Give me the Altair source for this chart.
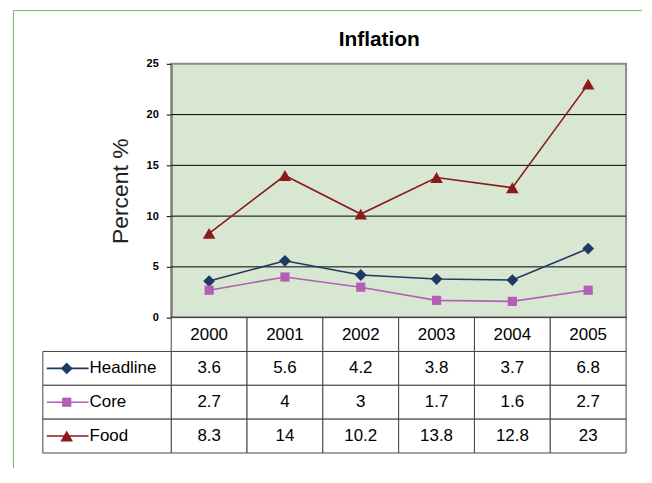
import altair as alt
import pandas as pd

years = ["2000", "2001", "2002", "2003", "2004", "2005"]
series = ["Headline", "Core", "Food"]
headline = [3.6, 5.6, 4.2, 3.8, 3.7, 6.8]
core = [2.7, 4, 3, 1.7, 1.6, 2.7]
food = [8.3, 14, 10.2, 13.8, 12.8, 23]
y_ticks = [0, 5, 10, 15, 20, 25]
grid_vals = [5, 10, 15, 20]
title_text = "Inflation"
y_title = "Percent %"

colors = ["#1f3864", "#b35fb3", "#8b1a1a"]
shapes = ["diamond", "square", "triangle-up"]
sizes = [140, 85, 160]

FONT = "Liberation Sans"
W, H = 457, 255
TABLE_H = 136

rows = []
for s, vals in zip(series, [headline, core, food]):
    for yr, v in zip(years, vals):
        rows.append({"series": s, "year": yr, "value": v, "label": f"{v:g}"})
df = pd.DataFrame(rows)

color_scale = alt.Scale(domain=series, range=colors)
shape_scale = alt.Scale(domain=series, range=shapes)

x_top = alt.X("year:O", sort=years, scale=alt.Scale(type="point", padding=0.5), axis=None)
y_axis = alt.Axis(
    values=y_ticks, grid=False, title=y_title,
    labelFont=FONT, labelFontSize=11, labelFontWeight="bold", labelColor="black",
    labelPadding=8, labelFlush=False, tickSize=5, tickColor="black",
    domainColor="#7f7f7f", domainWidth=2,
    titleFont=FONT, titleFontSize=23, titleFontWeight="normal", titleColor="#222222",
    titleX=-44, titleY=H / 2, titleAngle=-90, titleBaseline="alphabetic", titleAlign="center",
)
y_top = alt.Y("value:Q", scale=alt.Scale(domain=[0, 25], nice=False), axis=y_axis)

grid = alt.Chart(pd.DataFrame({"value": grid_vals})).mark_rule(color="black", strokeWidth=1).encode(
    y=alt.Y("value:Q", scale=alt.Scale(domain=[0, 25], nice=False), axis=y_axis)
)
lines = alt.Chart(df).mark_line(strokeWidth=1.6).encode(
    x=x_top, y=y_top,
    color=alt.Color("series:N", scale=color_scale, legend=None),
    detail="series:N",
)
point_layers = []
for s, sz in zip(series, sizes):
    point_layers.append(
        alt.Chart(df).transform_filter(alt.datum.series == s).mark_point(
            filled=True, opacity=1, size=sz
        ).encode(
            x=x_top, y=y_top,
            color=alt.Color("series:N", scale=color_scale, legend=None),
            shape=alt.Shape("series:N", scale=shape_scale, legend=None),
        )
    )
base_rule = alt.Chart(pd.DataFrame({"v": [0]})).mark_rule(color="black", strokeWidth=2).encode(
    y=alt.datum(0)
)
title_mark = alt.Chart(pd.DataFrame({"t": [title_text]})).mark_text(
    font=FONT, fontSize=21, fontWeight="bold", align="center", baseline="alphabetic", color="black"
).encode(x=alt.value(209), y=alt.value(-18), text="t:N")

frame_df = pd.DataFrame({"f": [1]})
frame_v = alt.Chart(frame_df).mark_rule(color="#6cbf5f", strokeWidth=1).encode(
    x=alt.value(-158.5), y=alt.value(-53.5), y2=alt.value(406)
)
frame_h = alt.Chart(frame_df).mark_rule(color="#6cbf5f", strokeWidth=1).encode(
    x=alt.value(-158.5), x2=alt.value(473), y=alt.value(-53.5)
)

top = alt.layer(grid, base_rule, lines, *point_layers, title_mark, frame_v, frame_h).properties(
    width=W, height=H,
    view=alt.ViewBackground(fill="#d7e7d1", stroke="#8c8c8c", strokeWidth=2),
)

# ---- data table ----
row_order = ["hdr"] + series
trows = [{"row": "hdr", "year": yr, "label": yr} for yr in years]
trows += [{"row": r["series"], "year": r["year"], "label": r["label"]} for r in rows]
tdf = pd.DataFrame(trows)
ldf = pd.DataFrame({"row": series})

x_tab = alt.X("year:N", sort=years, scale=alt.Scale(paddingInner=0, paddingOuter=0), axis=None)
y_tab = alt.Y("row:N", sort=row_order, scale=alt.Scale(domain=row_order, paddingInner=0, paddingOuter=0), axis=None)

cells = alt.Chart(tdf).mark_rect(fill="white", stroke="#444444", strokeWidth=1).encode(x=x_tab, y=y_tab)
cell_text = alt.Chart(tdf).mark_text(font=FONT, fontSize=17, color="black").encode(
    x=x_tab, y=y_tab, text="label:N"
)
label_cells = alt.Chart(ldf).mark_rect(fill="white", stroke="#444444", strokeWidth=1).encode(
    x=alt.value(-129), x2=alt.value(0), y=y_tab
)
leg_line = alt.Chart(ldf).mark_rule(strokeWidth=1.6).encode(
    x=alt.value(-125), x2=alt.value(-83), y=y_tab,
    color=alt.Color("row:N", scale=color_scale, legend=None),
)
leg_pts = []
for s, sz in zip(series, sizes):
    leg_pts.append(
        alt.Chart(ldf).transform_filter(alt.datum.row == s).mark_point(
            filled=True, opacity=1, size=sz
        ).encode(
            x=alt.value(-105), y=y_tab,
            color=alt.Color("row:N", scale=color_scale, legend=None),
            shape=alt.Shape("row:N", scale=shape_scale, legend=None),
        )
    )
leg_txt = alt.Chart(ldf).mark_text(font=FONT, fontSize=17, align="left", color="black").encode(
    x=alt.value(-82), y=y_tab, text="row:N"
)

table = alt.layer(cells, label_cells, cell_text, leg_line, *leg_pts, leg_txt).properties(
    width=W, height=TABLE_H,
    view=alt.ViewBackground(stroke="transparent"),
)

chart = alt.vconcat(top, table, spacing=0, bounds="flush").configure(
    padding={"left": 4, "top": 0, "right": 0, "bottom": 0},
    font=FONT,
)

chart.save("out.html", embed_options={"renderer": "svg", "actions": False})
